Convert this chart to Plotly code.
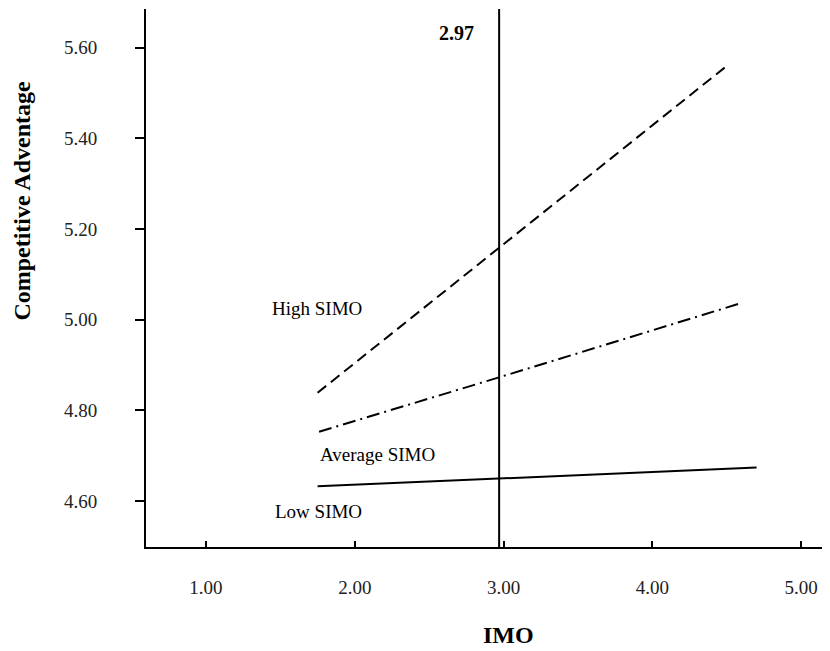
import plotly.graph_objects as go

# ---- data ----
imo_high = [1.75, 4.49]
ca_high = [4.839, 5.557]

imo_avg = [1.76, 3.00, 4.58]
ca_avg = [4.753, 4.876, 5.035]

imo_low = [1.75, 3.00, 4.70]
ca_low = [4.633, 4.651, 4.674]

cutoff_value = 2.97

x_ticks = [1.0, 2.0, 3.0, 4.0, 5.0]
y_ticks = [4.6, 4.8, 5.0, 5.2, 5.4, 5.6]

group_labels = ["High SIMO", "Average SIMO", "Low SIMO"]

FONT = "Liberation Serif, Times New Roman, serif"

fig = go.Figure()
fig.add_trace(go.Scatter(x=imo_high, y=ca_high, mode="lines",
                         line=dict(color="black", width=2, dash="11px,6px"),
                         name=group_labels[0], showlegend=False, hoverinfo="skip"))
fig.add_trace(go.Scatter(x=imo_avg, y=ca_avg, mode="lines",
                         line=dict(color="black", width=2, dash="13px,5px,2px,5px"),
                         name=group_labels[1], showlegend=False, hoverinfo="skip"))
fig.add_trace(go.Scatter(x=imo_low, y=ca_low, mode="lines",
                         line=dict(color="black", width=2),
                         name=group_labels[2], showlegend=False, hoverinfo="skip"))

fig.add_shape(type="line", xref="x", yref="paper", x0=cutoff_value, x1=cutoff_value,
              y0=0, y1=1, line=dict(color="black", width=2))

ann_font = dict(family=FONT, size=19, color="black")
fig.add_annotation(x=2.685, y=5.632, text="<b>%.2f</b>" % cutoff_value, showarrow=False,
                   xanchor="center", yanchor="middle",
                   font=dict(family=FONT, size=20, color="black"))
fig.add_annotation(x=1.749, y=5.024, text=group_labels[0], showarrow=False,
                   xanchor="center", yanchor="middle", font=ann_font)
fig.add_annotation(x=2.154, y=4.702, text=group_labels[1], showarrow=False,
                   xanchor="center", yanchor="middle", font=ann_font)
fig.add_annotation(x=1.756, y=4.578, text=group_labels[2], showarrow=False,
                   xanchor="center", yanchor="middle", font=ann_font)

fig.add_annotation(xref="paper", yref="paper", x=-0.181, y=0.643, textangle=-90,
                   xanchor="center", yanchor="middle",
                   text="<b>Competitive Adventage</b>", showarrow=False,
                   font=dict(family=FONT, size=24, color="black"))
fig.add_annotation(xref="paper", yref="paper", x=0.531, y=-0.1636,
                   xanchor="center", yanchor="middle",
                   text="<b>IMO</b>", showarrow=False,
                   font=dict(family=FONT, size=24, color="black"))

fig.update_layout(
    width=822, height=643,
    margin=dict(l=138, r=2, t=1, b=104),
    paper_bgcolor="white", plot_bgcolor="white",
    font=dict(family=FONT, size=19, color="black"),
    showlegend=False,
)
fig.update_xaxes(range=[0.597, 5.18], tickvals=x_ticks, tickformat=".2f",
                 showgrid=False, zeroline=False, showline=True, linecolor="black",
                 linewidth=2, ticks="inside", ticklen=6, tickwidth=1.5, tickcolor="black",
                 ticklabelstandoff=22, tickfont=dict(family=FONT, size=19, color="#222"))
fig.update_yaxes(range=[4.499, 5.685], tickvals=y_ticks, tickformat=".2f",
                 showgrid=False, zeroline=False, showline=True, linecolor="black",
                 linewidth=2, ticks="outside", ticklen=9, tickwidth=2, tickcolor="black",
                 ticklabelstandoff=34, tickfont=dict(family=FONT, size=19, color="#222"))

fig.write_html("out.html")
